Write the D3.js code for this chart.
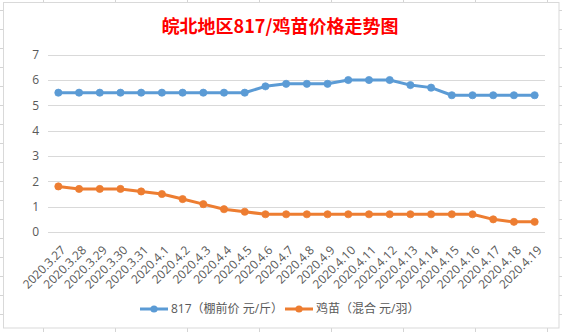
<!DOCTYPE html>
<html><head><meta charset="utf-8">
<script src="https://cdn.jsdelivr.net/npm/d3@7/dist/d3.min.js"></script>
<style>
html,body{margin:0;padding:0;background:#fff;}
svg{display:block;}
text{font-family:"Open Sans","Noto Sans CJK SC",sans-serif;}
</style></head>
<body>
<script>
const title = "皖北地区817/鸡苗价格走势图";
const categories = ["2020.3.27","2020.3.28","2020.3.29","2020.3.30","2020.3.31","2020.4.1","2020.4.2","2020.4.3","2020.4.4","2020.4.5","2020.4.6","2020.4.7","2020.4.8","2020.4.9","2020.4.10","2020.4.11","2020.4.12","2020.4.13","2020.4.14","2020.4.15","2020.4.16","2020.4.17","2020.4.18","2020.4.19"];
const price817 = [5.5,5.5,5.5,5.5,5.5,5.5,5.5,5.5,5.5,5.5,5.75,5.85,5.85,5.85,6,6,6,5.8,5.7,5.4,5.4,5.4,5.4,5.4];
const priceChick = [1.8,1.7,1.7,1.7,1.6,1.5,1.3,1.1,0.9,0.8,0.7,0.7,0.7,0.7,0.7,0.7,0.7,0.7,0.7,0.7,0.7,0.5,0.4,0.4];
const seriesNames = ["817（棚前价 元/斤）","鸡苗（混合 元/羽）"];
const seriesColors = ["#5B9BD5","#ED7D31"];
const yTicks = [0,1,2,3,4,5,6,7];

const FONT = "'Open Sans','Noto Sans CJK SC',sans-serif";
const W = 562, H = 332;
const svg = d3.select("body").append("svg").attr("width", W).attr("height", H);

// spreadsheet background grid
const rows = d3.range(10, H, 19);
const cols = d3.range(43.5, W, 72);
svg.selectAll("line.row").data(rows).enter().append("line")
  .attr("x1",0).attr("x2",W).attr("y1",d=>d+0.5).attr("y2",d=>d+0.5)
  .attr("stroke","#d4d4d4").attr("stroke-width",1);
svg.selectAll("line.col").data(cols).enter().append("line")
  .attr("y1",0).attr("y2",H).attr("x1",d=>d).attr("x2",d=>d)
  .attr("stroke","#d4d4d4").attr("stroke-width",1);

// chart area
svg.append("rect").attr("x",3.5).attr("y",2.5).attr("width",555.5).attr("height",325.5)
  .attr("fill","#fff").attr("stroke","#d9d9d9").attr("stroke-width",1);

const x = d3.scaleBand().domain(categories).range([48, 545]);
const y = d3.scaleLinear().domain([0,7]).range([232, 54.7]);
const cx = d => x(d) + x.bandwidth()/2;

// gridlines
svg.append("g").selectAll("line").data(yTicks).enter().append("line")
  .attr("x1",48).attr("x2",545)
  .attr("y1",d=>Math.round(y(d))+0.5).attr("y2",d=>Math.round(y(d))+0.5)
  .attr("stroke","#d9d9d9").attr("stroke-width",1);

// y axis labels
const yAxis = d3.axisLeft(y).tickValues(yTicks).tickFormat(d3.format("d")).tickSize(0).tickPadding(9);
const gy = svg.append("g").attr("transform","translate(48,0)").call(yAxis);
gy.select(".domain").remove();
gy.selectAll("text").attr("fill","#595959").style("font-size","12px").style("font-family",FONT);

// x labels
const xAxis = d3.axisBottom(x).tickSize(0);
const gx = svg.append("g").attr("transform","translate(0,232)").call(xAxis);
gx.select(".domain").remove();
gx.selectAll("text")
  .attr("fill","#595959").style("font-size","12px").style("font-family",FONT)
  .attr("text-anchor","end")
  .attr("y",0).attr("dy","0.35em")
  .attr("transform","translate(5,16) rotate(-45)");

// lines
const data = [price817, priceChick];
const line = d3.line().x((d,i)=>cx(categories[i])).y(d=>y(d));
data.forEach((vals, si) => {
  svg.append("path").datum(vals).attr("d", line)
    .attr("fill","none").attr("stroke",seriesColors[si]).attr("stroke-width",3)
    .attr("stroke-linejoin","round").attr("stroke-linecap","round");
  svg.append("g").selectAll("circle").data(vals).enter().append("circle")
    .attr("cx",(d,i)=>cx(categories[i])).attr("cy",d=>y(d)).attr("r",3.6)
    .attr("fill",seriesColors[si]).attr("stroke",seriesColors[si]).attr("stroke-width",0.75);
});

// legend
const legendItems = [{x:140, name:seriesNames[0], c:seriesColors[0]},{x:285, name:seriesNames[1], c:seriesColors[1]}];
const lg = svg.append("g");
legendItems.forEach(it => {
  lg.append("line").attr("x1",it.x).attr("x2",it.x+28).attr("y1",309).attr("y2",309)
    .attr("stroke",it.c).attr("stroke-width",3);
  lg.append("circle").attr("cx",it.x+14).attr("cy",309).attr("r",3.6).attr("fill",it.c);
  lg.append("text").attr("x",it.x+31).attr("y",309).attr("dy","0.35em")
    .attr("fill","#595959").style("font-size","12px").style("font-family",FONT).text(it.name);
});

// title
svg.append("text").attr("x",280).attr("y",32.5).attr("text-anchor","middle")
  .attr("fill","#ff0000").style("font-size","18px").style("font-weight","bold")
  .style("font-family","'Noto Sans CJK SC',sans-serif").text(title);
</script>
</body></html>
